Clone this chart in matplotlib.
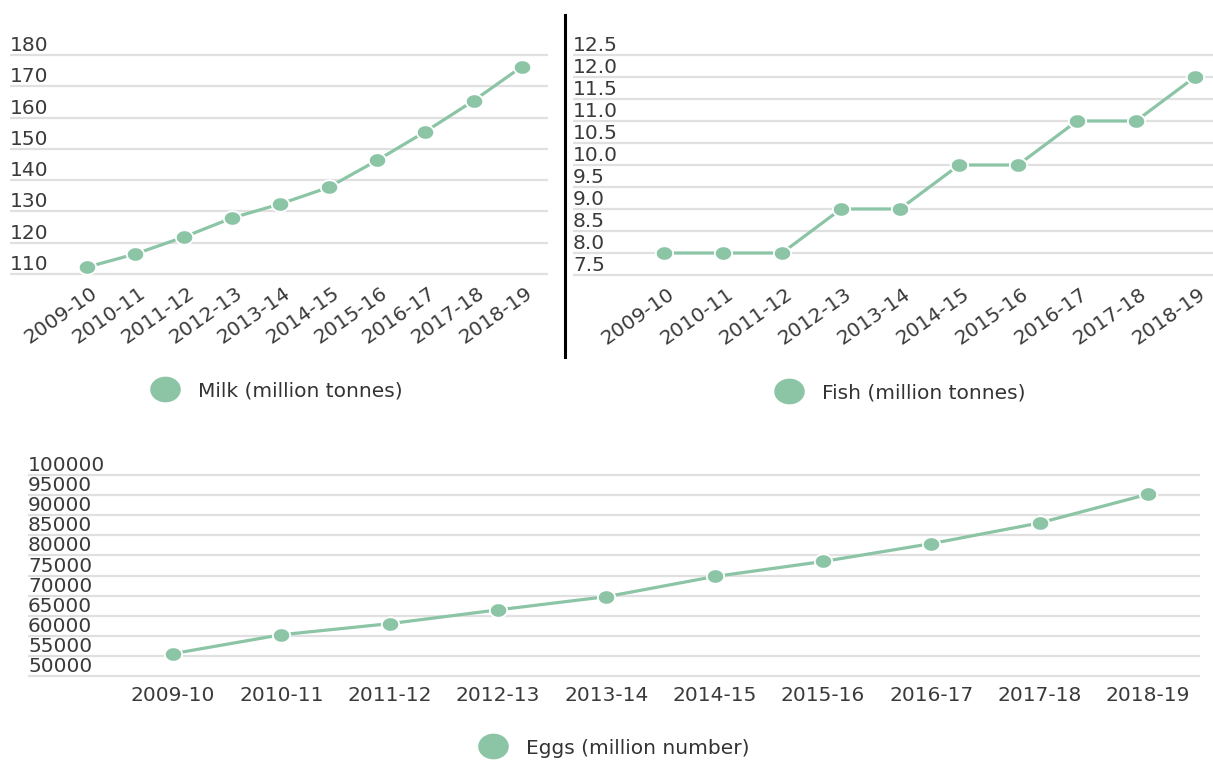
import numpy as np
import matplotlib
matplotlib.use('Agg')
import matplotlib.pyplot as plt
from matplotlib.path import Path
from matplotlib.lines import Line2D

years = ['2009-10', '2010-11', '2011-12', '2012-13', '2013-14',
         '2014-15', '2015-16', '2016-17', '2017-18', '2018-19']
milk = [112.2, 116.4, 121.8, 127.9, 132.4, 137.7, 146.3, 155.5, 165.4, 176.3]
fish = [8.0, 8.0, 8.0, 9.0, 9.0, 10.0, 10.0, 11.0, 11.0, 12.0]
eggs = [55562, 60267, 63024, 66450, 69731, 74752, 78484, 82929, 88081, 95217]

milk_ticks = [110, 120, 130, 140, 150, 160, 170, 180]
fish_ticks = [7.5, 8.0, 8.5, 9.0, 9.5, 10.0, 10.5, 11.0, 11.5, 12.0, 12.5]
eggs_ticks = list(range(50000, 100001, 5000))

GREEN = '#8cc4a6'
GRID = '#e0e0e0'
TXT = '#3a3a3a'
FS = 14.5

W, H = 1213, 760
fig = plt.figure(figsize=(W / 100, H / 100), dpi=100)
plt.rcParams['font.family'] = ['DejaVu Sans']

# slightly wide ellipse, the source picture is stretched sideways
t = np.linspace(0, 2 * np.pi, 60)
ell = Path(np.column_stack([1.2 * np.cos(t), np.sin(t)]), closed=True)


def place(x0, x1, ytop, ybot, xfirst, xlast, vlo, vhi, n=10, pad=4):
    ax = fig.add_axes([x0 / W, 1 - (ybot + pad) / H, (x1 - x0) / W, (ybot - ytop + 2 * pad) / H])
    step = (xlast - xfirst) / (n - 1)
    ax.set_xlim(-(xfirst - x0) / step, n - 1 + (x1 - xlast) / step)
    per = (vhi - vlo) / (ybot - ytop)
    ax.set_ylim(vlo - pad * per, vhi + pad * per)
    for s in ax.spines.values():
        s.set_visible(False)
    ax.set_facecolor('none')
    ax.step_px = step
    return ax


def draw(ax, vals, ticks, fmt, label, legend_xy, rotate):
    x = np.arange(len(vals))
    ax.plot(x, vals, color=GREEN, lw=2.3, marker=ell, ms=12.5, mfc=GREEN,
            mec='white', mew=1.3, clip_on=False, zorder=3)
    ax.set_yticks(ticks, [fmt.format(v) for v in ticks], ha='left', va='bottom')
    ax.grid(axis='y', color=GRID, lw=1.6)
    ax.set_axisbelow(True)
    ax.tick_params(axis='y', length=0, pad=0, labelsize=FS, labelcolor=TXT)
    if rotate:
        # label's top-right corner sits a few px right of the point
        ax.set_xticks(x + 3 / ax.step_px, years, rotation=35, ha='right',
                      rotation_mode='anchor', va='top')
        ax.tick_params(axis='x', length=0, pad=4, labelsize=FS, labelcolor=TXT)
    else:
        ax.set_xticks(x, years)
        ax.tick_params(axis='x', length=0, pad=4, labelsize=FS, labelcolor=TXT)
    h = Line2D([], [], ls='none', marker=ell, ms=21, color=GREEN, mec=GREEN)
    lx, ly = legend_xy
    ax.legend([h], [label], loc='center left', bbox_to_anchor=(lx / W, 1 - ly / H),
              bbox_transform=fig.transFigure, frameon=False, borderpad=0,
              borderaxespad=0, handlelength=1.5, handletextpad=0.9,
              prop={'size': FS}, labelcolor='#333333')


ax1 = place(10, 548, 55, 274, 87, 522, 110, 180)
draw(ax1, milk, milk_ticks, '{:d}', 'Milk (million tonnes)', (150, 391), True)

ax2 = place(573, 1213, 55, 275, 664, 1195, 7.5, 12.5)
draw(ax2, fish, fish_ticks, '{:.1f}', 'Fish (million tonnes)', (774, 393), True)

ax3 = place(28, 1200, 475, 676, 173, 1148, 50000, 100000)
draw(ax3, eggs, eggs_ticks, '{:d}', 'Eggs (million number)', (478, 748), False)

# black divider between the two top charts
fig.add_artist(Line2D([565 / W, 565 / W], [1 - 15 / H, 1 - 357 / H],
                      transform=fig.transFigure, color='black', lw=2.2))

fig.savefig('out.png', dpi=100, facecolor='white')
